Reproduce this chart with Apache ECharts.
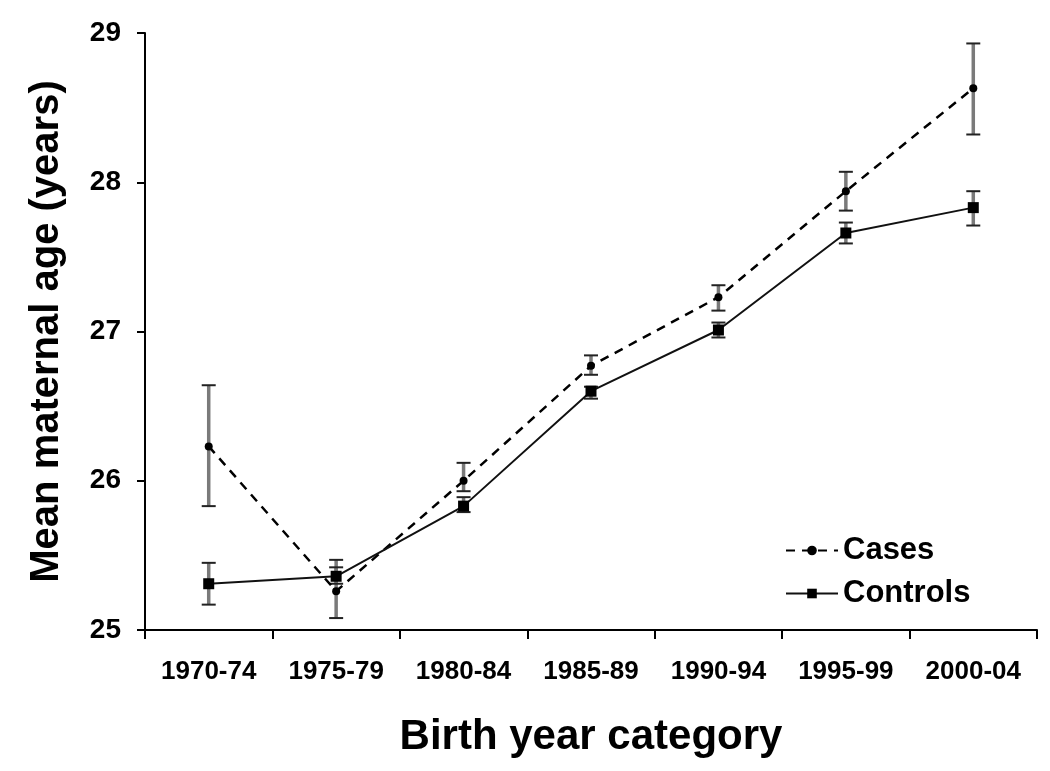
<!DOCTYPE html>
<html>
<head>
<meta charset="utf-8">
<script src="https://cdn.jsdelivr.net/npm/echarts@6/dist/echarts.min.js"></script>
<style>
html,body{margin:0;padding:0;background:#fff;}
#chart{width:1050px;height:771px;}
</style>
</head>
<body>
<div id="chart"></div>
<script>
const categories = ['1970-74','1975-79','1980-84','1985-89','1990-94','1995-99','2000-04'];
const casesMean  = [26.23, 25.26, 26.00, 26.77, 27.23, 27.94, 28.63];
const casesLow   = [25.83, 25.08, 25.93, 26.71, 27.14, 27.81, 28.32];
const casesHigh  = [26.64, 25.47, 26.12, 26.84, 27.31, 28.07, 28.93];
const controlsMean = [25.31, 25.36, 25.83, 26.60, 27.01, 27.66, 27.83];
const controlsLow  = [25.17, 25.31, 25.79, 26.55, 26.96, 27.59, 27.71];
const controlsHigh = [25.45, 25.42, 25.89, 26.63, 27.06, 27.73, 27.94];
const yTicks = [25, 26, 27, 28, 29];

const chart = echarts.init(document.getElementById('chart'), null, {renderer:'canvas'});

function errData(low, high){
  return categories.map((c,i)=>[i, low[i], high[i]]);
}
function errRender(params, api){
  const x = api.value(0);
  const lo = api.coord([x, api.value(1)]);
  const hi = api.coord([x, api.value(2)]);
  const cw = 7;
  const stem = {stroke:'#7a7a7a', lineWidth:3.5};
  const cap = {stroke:'#222', lineWidth:2};
  return {type:'group', children:[
    {type:'line', shape:{x1:lo[0], y1:lo[1], x2:hi[0], y2:hi[1]}, style:stem},
    {type:'line', shape:{x1:hi[0]-cw, y1:hi[1], x2:hi[0]+cw, y2:hi[1]}, style:cap},
    {type:'line', shape:{x1:lo[0]-cw, y1:lo[1], x2:lo[0]+cw, y2:lo[1]}, style:cap}
  ]};
}

const option = {
  backgroundColor:'#fff',
  animation:false,
  grid:{left:145, right:13, top:33, bottom:141, containLabel:false},
  legend:{
    orient:'vertical', left:780, top:530, itemGap:12,
    itemWidth:52, itemHeight:12,
    textStyle:{fontFamily:'Liberation Sans, Arial, sans-serif', fontWeight:'bold', fontSize:31, color:'#000'},
    data:['Cases','Controls']
  },
  xAxis:{
    type:'category', data:categories, boundaryGap:true,
    name:'Birth year category', nameLocation:'middle', nameGap:86,
    nameTextStyle:{fontFamily:'Liberation Sans, Arial, sans-serif', fontWeight:'bold', fontSize:42, color:'#000'},
    axisLine:{lineStyle:{color:'#000', width:2}},
    axisTick:{show:true, length:9, alignWithLabel:false, lineStyle:{color:'#000', width:2}},
    axisLabel:{interval:0, margin:29, fontFamily:'Liberation Sans, Arial, sans-serif', fontWeight:'bold', fontSize:26, color:'#000'},
    splitLine:{show:false}
  },
  yAxis:{
    type:'value', min:25, max:29, interval:1,
    name:'Mean maternal age (years)', nameLocation:'middle', nameGap:78,
    nameTextStyle:{fontFamily:'Liberation Sans, Arial, sans-serif', fontWeight:'bold', fontSize:40, color:'#000'},
    axisLine:{show:true, lineStyle:{color:'#000', width:2}},
    axisTick:{show:true, length:8, lineStyle:{color:'#000', width:2}},
    axisLabel:{margin:24, fontFamily:'Liberation Sans, Arial, sans-serif', fontWeight:'bold', fontSize:28, color:'#000',
      formatter:function(v){ return yTicks.indexOf(v)>=0 ? String(v) : ''; }},
    splitLine:{show:false}
  },
  series:[
    {type:'custom', name:'casesErr', renderItem:errRender, data:errData(casesLow, casesHigh), z:1, encode:{x:0, y:[1,2]}},
    {type:'custom', name:'controlsErr', renderItem:errRender, data:errData(controlsLow, controlsHigh), z:1, encode:{x:0, y:[1,2]}},
    {
      type:'line', name:'Cases', data:casesMean, z:3,
      symbol:'circle', symbolSize:8,
      itemStyle:{color:'#000'},
      lineStyle:{color:'#000', width:2.5, type:[9,7]}
    },
    {
      type:'line', name:'Controls', data:controlsMean, z:3,
      symbol:'rect', symbolSize:11,
      itemStyle:{color:'#000'},
      lineStyle:{color:'#111', width:2}
    }
  ]
};
chart.setOption(option);
</script>
</body>
</html>
